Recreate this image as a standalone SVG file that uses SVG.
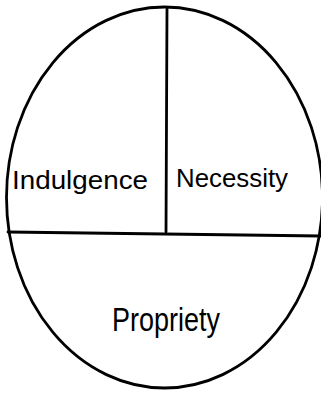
<svg xmlns="http://www.w3.org/2000/svg" width="321" height="394" viewBox="0 0 321 394">
<style>
.ln{fill:none;stroke:#000;stroke-width:2.8;stroke-linecap:round}
.lb{font-family:"Liberation Sans",sans-serif;fill:#000}
</style>
<rect width="321" height="394" fill="#fff"/>
<g id="outline">
<ellipse class="ln" cx="164.5" cy="197.5" rx="158" ry="190.5"/>
</g>
<g id="connectors">
<line class="ln" x1="167" y1="9" x2="166" y2="232"/>
<line class="ln" x1="8" y1="232" x2="322" y2="236"/>
</g>
<g id="indulgence">
<text class="lb" x="80" y="189" font-size="25" text-anchor="middle" textLength="136" lengthAdjust="spacingAndGlyphs">Indulgence</text>
</g>
<g id="necessity">
<text class="lb" x="232" y="187" font-size="25" text-anchor="middle" textLength="112" lengthAdjust="spacingAndGlyphs">Necessity</text>
</g>
<g id="propriety">
<text class="lb" x="166" y="331" font-size="33" text-anchor="middle" textLength="108" lengthAdjust="spacingAndGlyphs">Propriety</text>
</g>
</svg>
